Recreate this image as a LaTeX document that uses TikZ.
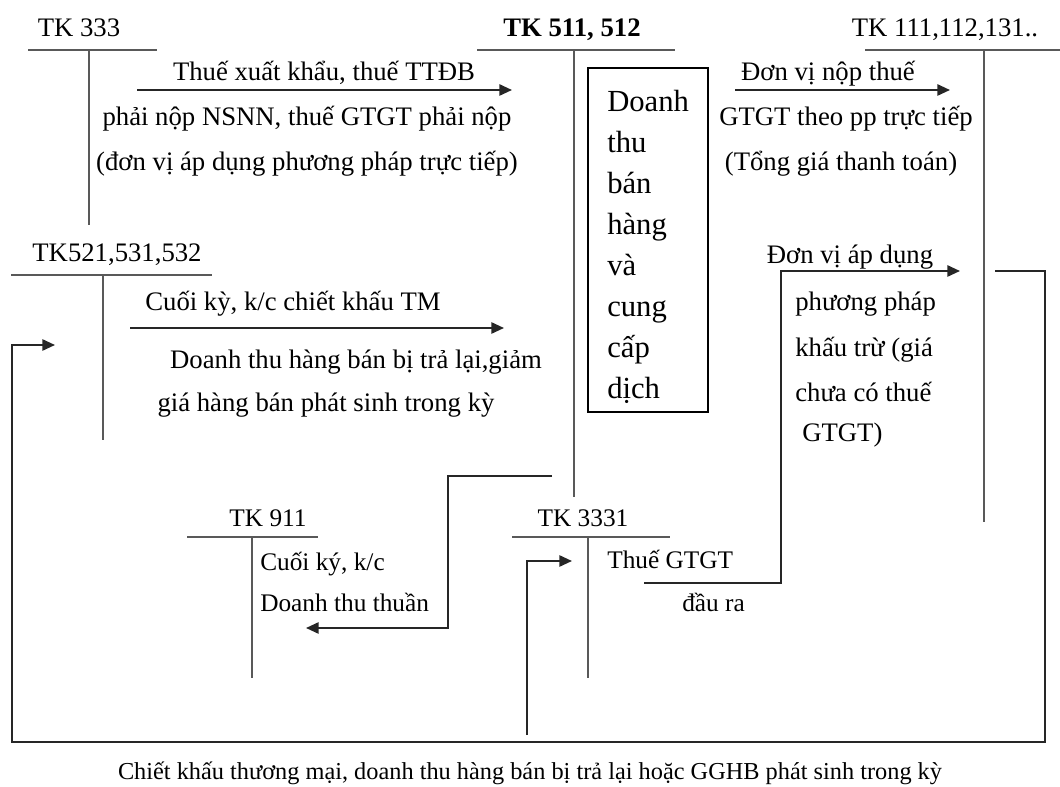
\documentclass[tikz,border=0pt]{standalone}
\usepackage{fontspec}
\setmainfont{Liberation Serif}
\usetikzlibrary{arrows.meta}

\begin{document}
\begin{tikzpicture}[x=0.025cm, y=-0.025cm,
  every node/.style={inner sep=0pt, font=\fontsize{19}{22}\selectfont},
  acct/.style={anchor=mid},
  note/.style={anchor=mid},
  lnote/.style={anchor=mid west},
  low/.style={font=\fontsize{18}{21}\selectfont},
  tline/.style={line width=1.2pt, black!65},
  flow/.style={line width=1.4pt, black!85, -{Triangle[length=9pt,width=8pt]}}]
\useasboundingbox (0,0) rectangle (1060,787);

% T accounts
\node[acct] (tk333) at (79,33) {TK 333};
\draw[tline] (28,50) -- (157,50);
\draw[tline] (89,50) -- (89,225);

\node[acct] (tk511) at (572,33) {\bfseries TK 511, 512};
\draw[tline] (477,50) -- (675,50);
\draw[tline] (574,50) -- (574,497);

\node[acct] (tk111) at (945,33) {TK 111,112,131..};
\draw[tline] (865,50) -- (1060,50);
\draw[tline] (984,50) -- (984,522);

\node[acct] (tk521) at (117,258) {TK521,531,532};
\draw[tline] (11,275) -- (212,275);
\draw[tline] (103,275) -- (103,440);

\node[acct, low] (tk911) at (268,523) {TK 911};
\draw[tline] (187,537) -- (318,537);
\draw[tline] (252,537) -- (252,678);

\node[acct, low] (tk3331) at (583,523) {TK 3331};
\draw[tline] (512,537) -- (670,537);
\draw[tline] (588,537) -- (588,678);

% revenue box
\node[draw, line width=1pt, minimum width=3cm, minimum height=8.6cm] (dtbox) at (648,240) {};
\node[anchor=north west, align=left, font=\fontsize{21.8}{29.2}\selectfont]
  (dttext) at (607,90) {Doanh\\thu\\bán\\hàng\\và\\cung\\cấp\\dịch};

% texts
\node[note] (xk1) at (324,77) {Thuế xuất khẩu, thuế TTĐB};
\node[note] (xk2) at (307,122) {phải nộp NSNN, thuế GTGT phải nộp};
\node[note] (xk3) at (307,167) {(đơn vị áp dụng phương pháp trực tiếp)};
\node[note] (tt1) at (828,77) {Đơn vị nộp thuế};
\node[note] (tt2) at (846,122) {GTGT theo pp trực tiếp};
\node[note] (tt3) at (841,167) {(Tổng giá thanh toán)};
\node[note] (ck1) at (293,307) {Cuối kỳ, k/c chiết khấu TM};
\node[note] (ck2) at (356,365) {Doanh thu hàng bán bị trả lại,giảm};
\node[note] (ck3) at (326,408) {giá hàng bán phát sinh trong kỳ};
\node[note] (kt1) at (850,260) {Đơn vị áp dụng};
\node[lnote] (kt2) at (795,307) {phương pháp};
\node[lnote] (kt3) at (795,353) {khấu trừ (giá};
\node[lnote] (kt4) at (795,398) {chưa có thuế};
\node[lnote] (kt5) at (802,438) {GTGT)};
\node[lnote, low] (dt1) at (260,567) {Cuối ký, k/c};
\node[lnote, low] (dt2) at (260,608) {Doanh thu thuần};
\node[lnote, low] (vat1) at (607,565) {Thuế GTGT};
\node[lnote, low] (vat2) at (682,608) {đầu ra};
\node[note, font=\fontsize{17.3}{20}\selectfont] (caption) at (530,776)
  {Chiết khấu thương mại, doanh thu hàng bán bị trả lại hoặc GGHB phát sinh trong kỳ};

% connector ends
\coordinate (a1s) at (137,90);   \coordinate (a1e) at (512,90);
\coordinate (a2s) at (735,90);   \coordinate (a2e) at (950,90);
\coordinate (a3s) at (130,328);  \coordinate (a3e) at (504,328);
\coordinate (a4s) at (644,583);  \coordinate (a4c) at (781,583);
\coordinate (a4d) at (781,271);  \coordinate (a4e) at (960,271);
\coordinate (a5s) at (552,476);  \coordinate (a5c) at (448,476);
\coordinate (a5d) at (448,628);  \coordinate (a5e) at (306,628);
\coordinate (a6s) at (995,271);  \coordinate (a6c) at (1045,271);
\coordinate (a6d) at (1045,742); \coordinate (a6f) at (12,742);
\coordinate (a6g) at (12,345);   \coordinate (a6e) at (55,345);
\coordinate (a7s) at (527,735);  \coordinate (a7c) at (527,561);
\coordinate (a7e) at (572,561);

% connectors
\draw[flow] (a1s) -- (a1e);
\draw[flow] (a2s) -- (a2e);
\draw[flow] (a3s) -- (a3e);
\draw[flow] (a4s) -- (a4c) -- (a4d) -- (a4e);
\draw[flow] (a5s) -- (a5c) -- (a5d) -- (a5e);
\draw[flow] (a6s) -- (a6c) -- (a6d) -- (a6f) -- (a6g) -- (a6e);
\draw[flow] (a7s) -- (a7c) -- (a7e);
\end{tikzpicture}
\end{document}
